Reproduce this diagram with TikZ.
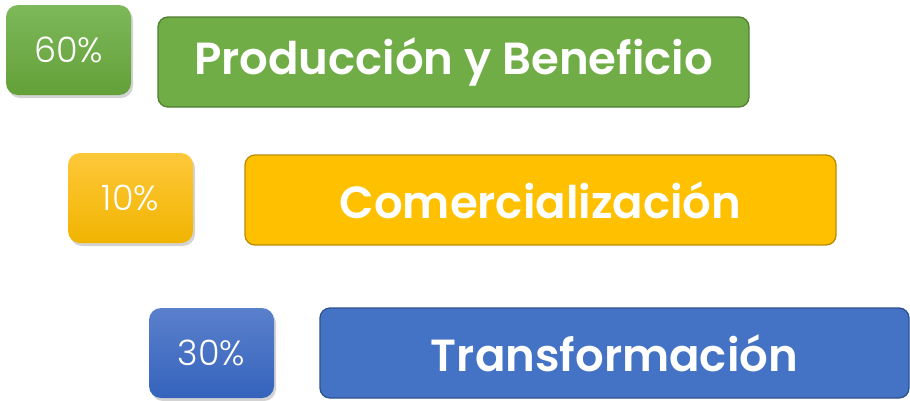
\documentclass[tikz,border=0pt]{standalone}
\usepackage{fontspec}
\setmainfont{Poppins}
\newfontfamily\boldf{Poppins}[UprightFont=* SemiBold]
\newfontfamily\lightf{Poppins}[UprightFont=* Light]
\usetikzlibrary{shadows}
\definecolor{gr}{HTML}{70AD47}\definecolor{grB}{HTML}{507E32}
\definecolor{grT}{HTML}{7DB85A}\definecolor{grD}{HTML}{64A038}
\definecolor{ye}{HTML}{FFC000}\definecolor{yeB}{HTML}{BC8C00}
\definecolor{yeT}{HTML}{FFC83A}\definecolor{yeD}{HTML}{F0B400}
\definecolor{bl}{HTML}{4472C4}\definecolor{blB}{HTML}{2F528F}
\definecolor{blT}{HTML}{5A80CC}\definecolor{blD}{HTML}{3563BC}
\tikzset{
  pct/.style={rounded corners=12pt, minimum width=125pt, minimum height=90pt,
    inner sep=0pt, text=white, font=\lightf\fontsize{35}{35}\selectfont,
    drop shadow={opacity=0.35, shadow xshift=2pt, shadow yshift=-3pt}},
  lab/.style={rounded corners=10pt, minimum height=90pt,
    inner sep=0pt, text=white, line width=1.3pt, font=\boldf\fontsize{45}{45}\selectfont},
}
\begin{document}
\begin{tikzpicture}[x=1pt,y=-1pt]
\useasboundingbox (0,0) rectangle (910,400);
\node[pct, top color=grT, bottom color=grD] (p1) at (68.5,50) {60\%};
\node[lab, fill=gr, draw=grB, minimum width=591pt] (l1) at (453.5,62) {Producción y Beneficio};
\node[pct, top color=yeT, bottom color=yeD] (p2) at (130.5,198) {10\%};
\node[lab, fill=ye, draw=yeB, minimum width=591pt] (l2) at (540.5,200) {Comercialización};
\node[pct, top color=blT, bottom color=blD] (p3) at (211.5,353) {30\%};
\node[lab, fill=bl, draw=blB, minimum width=589pt] (l3) at (614.5,353) {Transformación};
\end{tikzpicture}
\end{document}
